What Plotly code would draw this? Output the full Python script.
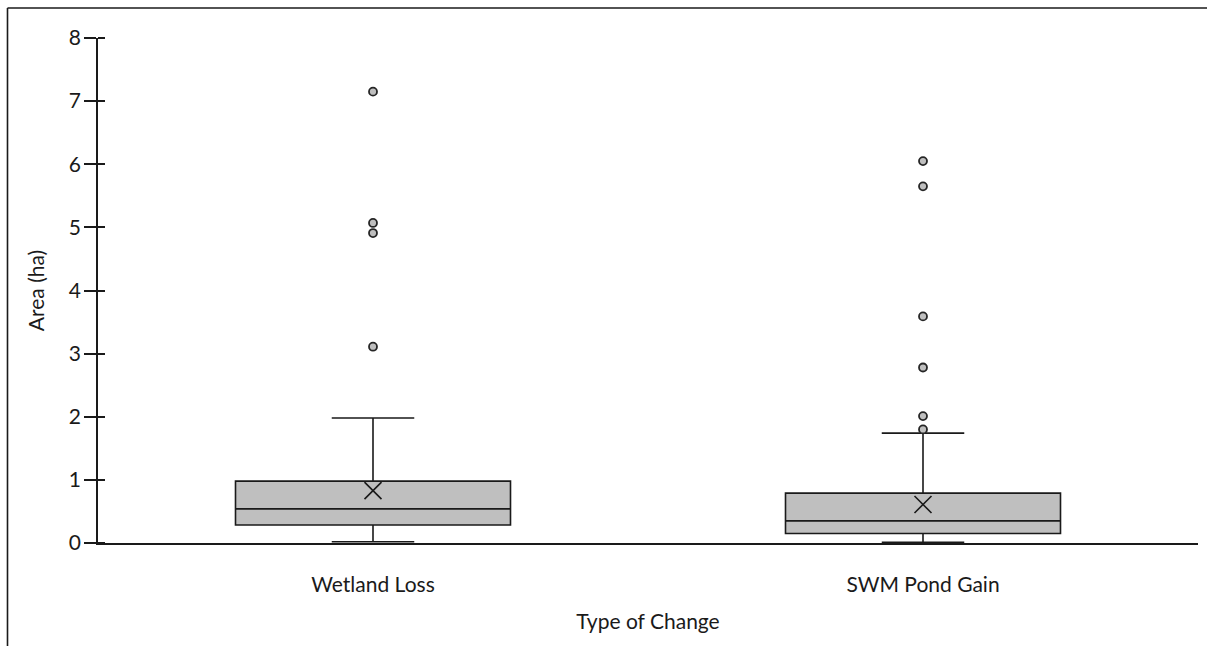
import plotly.graph_objects as go

# Summary statistics per type of change (area in hectares)
categories = ["Wetland Loss", "SWM Pond Gain"]
q1_vals = [0.285, 0.15]
median_vals = [0.54, 0.35]
q3_vals = [0.98, 0.79]
lower_whisker = [0.02, 0.01]
upper_whisker = [1.98, 1.74]
mean_vals = [0.83, 0.61]

# Outlying observations
outliers_wetland = [7.15, 5.07, 4.91, 3.11]
outliers_swm = [6.05, 5.65, 3.59, 2.78, 2.01, 1.80]

y_ticks = [0, 1, 2, 3, 4, 5, 6, 7, 8]

FONT = "Lato, 'Open Sans', sans-serif"
FS = 21

fig = go.Figure()

fig.add_trace(go.Box(
    x=categories,
    q1=q1_vals,
    median=median_vals,
    q3=q3_vals,
    lowerfence=lower_whisker,
    upperfence=upper_whisker,
    boxpoints=False,
    fillcolor="#BFBFBF",
    line=dict(color="#1a1a1a", width=1.6),
    whiskerwidth=0.3,
    showlegend=False,
    hoverinfo="skip",
))

# Mean markers
fig.add_trace(go.Scatter(
    x=categories,
    y=mean_vals,
    mode="markers",
    marker=dict(symbol="x-thin", size=17, line=dict(color="#1a1a1a", width=1.6)),
    showlegend=False,
    hoverinfo="skip",
))

# Outlier markers
out_x = [categories[0]] * len(outliers_wetland) + [categories[1]] * len(outliers_swm)
out_y = outliers_wetland + outliers_swm
fig.add_trace(go.Scatter(
    x=out_x,
    y=out_y,
    mode="markers",
    marker=dict(symbol="circle", size=8, color="#BFBFBF",
                line=dict(color="#262626", width=1.8)),
    showlegend=False,
    hoverinfo="skip",
))

L, R, T, B = 98, 9, 38, 103
W, H = 1207, 646
pw, ph = W - L - R, H - T - B

# Hidden trace that carries the short inner tick marks (second y axis)
fig.add_trace(go.Scatter(
    x=categories, y=[0, 0], yaxis="y2", mode="markers",
    marker=dict(size=1, opacity=0),
    showlegend=False, hoverinfo="skip",
))

fig.update_layout(
    width=W, height=H,
    margin=dict(l=L, r=R, t=T, b=B),
    paper_bgcolor="white",
    plot_bgcolor="white",
    boxgap=0.5,
    boxgroupgap=0,
    font=dict(family=FONT, size=FS, color="#1a1a1a"),
    xaxis=dict(
        type="category",
        categoryorder="array",
        categoryarray=categories,
        showline=True, linecolor="#1a1a1a", linewidth=1.6,
        showgrid=False, zeroline=False,
        ticks="",
        ticklabelstandoff=22,
        tickfont=dict(size=FS),
        title=dict(text="Type of Change", font=dict(size=FS), standoff=19),
    ),
    yaxis=dict(
        range=[0, 8],
        tickvals=y_ticks,
        showline=True, linecolor="#1a1a1a", linewidth=1.6,
        showgrid=False, zeroline=False,
        ticks="outside", ticklen=12, tickwidth=1.6, tickcolor="#1a1a1a",
        ticklabelstandoff=-1,
        tickfont=dict(size=FS),
        title=dict(text="Area (ha)", font=dict(size=FS), standoff=18),
    ),
    yaxis2=dict(
        range=[0, 8],
        tickvals=y_ticks,
        overlaying="y",
        anchor="free",
        position=7 / pw,
        side="left",
        showticklabels=False,
        showgrid=False, zeroline=False, showline=False,
        ticks="outside", ticklen=7, tickwidth=1.6, tickcolor="#1a1a1a",
    ),
)

# Outer frame lines (left and top edges)
x_left = (7.5 - L) / pw
y_top = (H - B - 8) / ph
fig.add_shape(type="line", xref="paper", yref="paper",
              x0=x_left, x1=x_left, y0=-(B + 5) / ph, y1=y_top,
              line=dict(color="#1a1a1a", width=1.6))
fig.add_shape(type="line", xref="paper", yref="paper",
              x0=x_left, x1=(W - L + 5) / pw, y0=y_top, y1=y_top,
              line=dict(color="#1a1a1a", width=1.6))

fig.write_html("out.html")
